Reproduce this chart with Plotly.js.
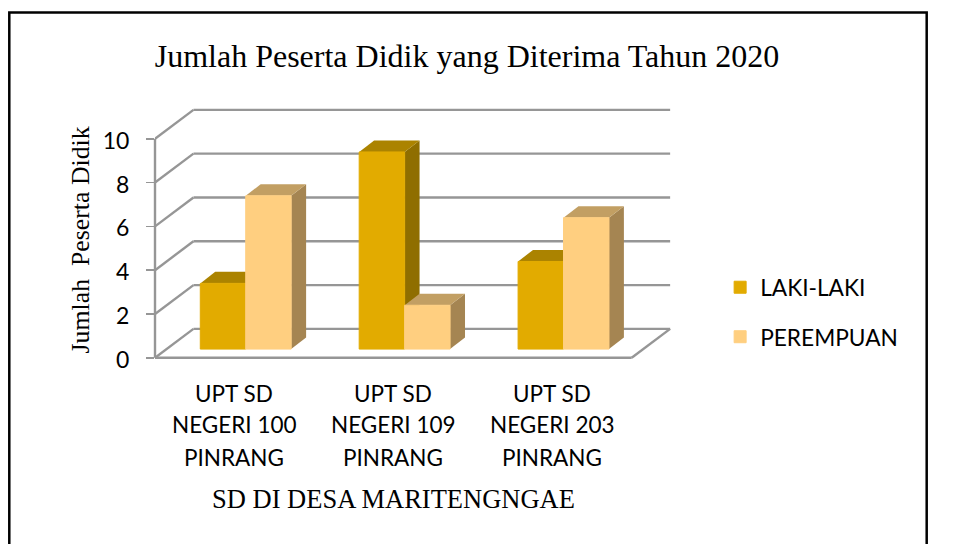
<!DOCTYPE html>
<html><head><meta charset="utf-8">
<script src="https://cdn.plot.ly/plotly-3.0.1.min.js"></script>
<style>html,body{margin:0;padding:0;background:#fff}</style></head>
<body><div id="chart" style="width:953px;height:544px"></div>
<script>
const categories = ['UPT SD<br>NEGERI 100<br>PINRANG','UPT SD<br>NEGERI 109<br>PINRANG','UPT SD<br>NEGERI 203<br>PINRANG'];
const laki = [3,9,4];
const perempuan = [7,2,6];
const yTicks = [0,2,4,6,8,10];
const titleText = 'Jumlah Peserta Didik yang Diterima Tahun 2020';
const yTitle = 'Jumlah  Peserta Didik';
const xTitle = 'SD DI DESA MARITENGNGAE';

const W=953,H=544, L=154.5, PXX=159, PXY=21.87, Y0=357.7;
const xr=[0,3.26], yr=[-0.1,11.45];
const plotR=L+xr[1]*PXX, plotB=Y0-yr[0]*PXY, plotT=Y0-yr[1]*PXY;
const wallDx=0.242, wallDy=1.32, barDx=0.094, barDy=0.526, base=0.398, barW=0.286, grpShift=0.071;
const GRID='#969696';
const C={lk:{f:'#E2AB00',s:'#8F6E00',t:'#AB8300'},pr:{f:'#FFCF80',s:'#A58552',t:'#C29F63'}};
const px=x=>(x-L)/(plotR-L), py=y=>(plotB-y)/(plotB-plotT);

const shapes=[];
const line=(x0,y0,x1,y1)=>shapes.push({type:'line',layer:'below',xref:'x',yref:'y',x0,y0,x1,y1,line:{color:GRID,width:2.4}});
yTicks.forEach(v=>{
  line(wallDx,v+wallDy,3+wallDx,v+wallDy);
  line(0,v,wallDx,v+wallDy);
});
line(0,0,3,0);
line(3,0,3+wallDx,wallDy);
shapes.push({type:'line',layer:'below',xref:'paper',yref:'y',x0:0,x1:0,y0:0,y1:10,line:{color:GRID,width:2.4}});
const poly=(pts,col)=>shapes.push({type:'path',layer:'below',xref:'x',yref:'y',
  path:'M'+pts.map(p=>p[0]+','+p[1]).join('L')+'Z',fillcolor:col,line:{width:0}});
const xL=i=>i+0.5+grpShift-barW, xM=i=>i+0.5+grpShift, xR=i=>i+0.5+grpShift+barW;
categories.forEach((c,i)=>{
  [[xL(i),xM(i),laki[i],C.lk],[xM(i),xR(i),perempuan[i],C.pr]].forEach(([a,b,v,k])=>{
    const t=base+v;
    poly([[b,base],[b+barDx,base+barDy],[b+barDx,t+barDy],[b,t]],k.s);
    poly([[a,t],[b,t],[b+barDx,t+barDy],[a+barDx,t+barDy]],k.t);
  });
});
// slide frame, open at the bottom
shapes.push({type:'path',layer:'above',xref:'paper',yref:'paper',
  path:`M${px(8.7)},${py(544)}L${px(8.7)},${py(13)}L${px(926.7)},${py(13)}L${px(926.7)},${py(544)}`,
  line:{color:'#000',width:2.5}});

const annotations=[];
const serif='"Liberation Serif", serif', sans='Lato, sans-serif';
const lineY=[393,424,457];
categories.forEach((c,i)=>c.split('<br>').forEach((t,j)=>annotations.push({
  text:t,xref:'x',yref:'paper',x:i+0.5,y:py(lineY[j]),showarrow:false,xanchor:'center',yanchor:'middle',
  font:{family:sans,size:22.5,color:'#000'}})));
annotations.push({text:xTitle,xref:'paper',yref:'paper',x:px(393),y:py(499),showarrow:false,xanchor:'center',yanchor:'middle',
  font:{family:serif,size:26.5,color:'#000'}});
annotations.push({text:yTitle,xref:'paper',yref:'paper',x:px(80),y:py(240),showarrow:false,textangle:-90,xanchor:'center',yanchor:'middle',
  font:{family:serif,size:25.8,color:'#000'}});

const barTrace=(name,vals,col,dx)=>({type:'bar',name,legendgroup:name,
  x:vals.map((v,i)=>i+0.5+grpShift+dx),y:vals,base:base,width:barW,
  marker:{color:col,line:{color:col,width:1}},hoverinfo:'skip'});
const data=[barTrace('LAKI-LAKI',laki,C.lk.f,-barW/2),barTrace('PEREMPUAN',perempuan,C.pr.f,barW/2)];

Plotly.newPlot('chart',data,{
  width:W,height:H,margin:{l:L,r:W-plotR,t:plotT,b:H-plotB,autoexpand:false},
  paper_bgcolor:'#fff',plot_bgcolor:'rgba(0,0,0,0)',barmode:'overlay',showlegend:true,
  title:{text:titleText,x:467/W,y:1-56/H,xref:'container',yref:'container',xanchor:'center',yanchor:'middle',
    font:{family:serif,size:32,color:'#000'}},
  xaxis:{range:xr,showgrid:false,zeroline:false,showline:false,showticklabels:false,ticks:'',fixedrange:true},
  yaxis:{range:yr,tickvals:yTicks,showgrid:false,zeroline:false,showline:false,ticks:'outside',ticklen:8,tickwidth:1.5,tickcolor:GRID,
    ticklabelstandoff:12,ticklabelshift:2,tickfont:{family:sans,size:23,color:'#000'},fixedrange:true},
  legend:{x:px(720),y:py(266),xanchor:'left',yanchor:'top',tracegroupgap:17,traceorder:'grouped',
    font:{family:sans,size:22.7,color:'#000'},bgcolor:'rgba(0,0,0,0)',itemclick:false,itemdoubleclick:false},
  shapes,annotations
},{displayModeBar:false,staticPlot:true});
</script></body></html>
